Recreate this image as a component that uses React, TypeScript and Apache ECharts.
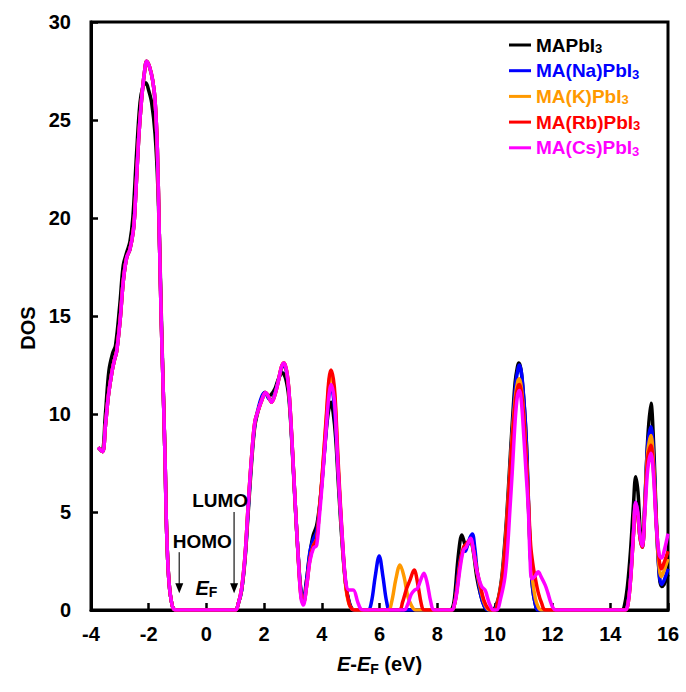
import React, { useEffect, useRef } from 'react';
import * as echarts from 'echarts';

const FONT = '"Liberation Sans", Arial, sans-serif';

type P = [number, number];

// Valence band region (x < -1) shared by the alkali-doped compounds
const valenceAlloy: P[] = [
  [-3.75, 8.3], [-3.6, 8.08], [-3.5, 9.4], [-3.4, 10.9], [-3.28, 12.1], [-3.18, 12.8], [-3.11, 13.2],
  [-2.99, 14.8], [-2.88, 16.8], [-2.76, 18.0], [-2.65, 18.4], [-2.53, 19.4], [-2.47, 20.6], [-2.35, 24.0],
  [-2.25, 26.0], [-2.15, 27.4], [-2.07, 28.0], [-1.97, 27.7], [-1.86, 27.0], [-1.78, 26.0], [-1.7, 23.5],
  [-1.63, 19.0], [-1.56, 14.5], [-1.49, 10.9], [-1.43, 7.5], [-1.38, 4.1], [-1.3, 1.5], [-1.18, 0.2],
  [-1.05, 0], [1.0, 0],
];

const mapbi3: P[] = [
  [-3.75, 8.3], [-3.62, 8.1], [-3.5, 10.0], [-3.38, 12.2], [-3.25, 13.1], [-3.15, 13.5], [-3.0, 15.6],
  [-2.88, 17.6], [-2.75, 18.3], [-2.65, 18.8], [-2.55, 20.0], [-2.42, 23.3], [-2.3, 25.9], [-2.2, 26.7],
  [-2.1, 26.9], [-2.0, 26.5], [-1.9, 25.9], [-1.78, 24.3], [-1.68, 21.5], [-1.6, 17.3], [-1.55, 14.3],
  [-1.49, 10.9], [-1.43, 7.5], [-1.38, 4.1], [-1.3, 1.5], [-1.18, 0.2], [-1.05, 0], [1.0, 0],
  [1.1, 0.3], [1.22, 1.0], [1.34, 2.6], [1.45, 5.0], [1.57, 7.6], [1.68, 9.4], [1.8, 10.2], [1.92, 10.8],
  [2.03, 11.1], [2.15, 10.9], [2.25, 11.0], [2.38, 11.3], [2.5, 11.8], [2.63, 12.1], [2.75, 11.8],
  [2.86, 10.8], [2.96, 8.6], [3.08, 5.3], [3.19, 2.6], [3.28, 0.9], [3.36, 0.5], [3.46, 1.4], [3.58, 2.8],
  [3.7, 3.8], [3.82, 4.3], [3.92, 5.3], [4.02, 6.8], [4.17, 9.4], [4.25, 10.3], [4.32, 10.6], [4.4, 10.0],
  [4.48, 8.8], [4.58, 6.3], [4.71, 3.3], [4.83, 1.3], [4.95, 0.4], [5.05, 0.05], [5.15, 0], [8.45, 0],
  [8.55, 0.2], [8.62, 0.9], [8.7, 2.3], [8.79, 3.5], [8.85, 3.83], [8.93, 3.5], [9.0, 3.2], [9.08, 3.4],
  [9.15, 3.6], [9.25, 3.0], [9.37, 1.7], [9.5, 0.8], [9.62, 0.25], [9.72, 0], [9.92, 0],
  [10.0, 0.1], [10.12, 0.6], [10.24, 1.7], [10.33, 3.2], [10.41, 4.8], [10.5, 7.0], [10.58, 9.0],
  [10.7, 11.6], [10.78, 12.4], [10.83, 12.6], [10.9, 12.3], [10.97, 11.3], [11.04, 9.9], [11.1, 8.2],
  [11.17, 5.0], [11.23, 2.8], [11.3, 1.2], [11.4, 0.3], [11.5, 0], [14.4, 0],
  [14.5, 0.3], [14.6, 1.3], [14.7, 3.0], [14.8, 5.3], [14.88, 6.8], [14.96, 6.0], [15.04, 4.0],
  [15.11, 3.3], [15.2, 5.5], [15.3, 8.8], [15.41, 10.55], [15.5, 8.5], [15.6, 4.5], [15.7, 1.7],
  [15.77, 1.2], [15.86, 1.3], [16.0, 1.8],
];

const naPbi3: P[] = [
  ...valenceAlloy,
  [1.1, 0.3], [1.22, 1.0], [1.34, 2.7], [1.45, 5.2], [1.57, 7.8], [1.68, 9.5], [1.8, 10.3], [1.92, 10.9],
  [2.03, 11.1], [2.15, 10.8], [2.26, 10.7], [2.38, 11.1], [2.49, 11.7], [2.6, 12.3], [2.69, 12.5],
  [2.78, 12.1], [2.86, 11.1], [2.96, 8.7], [3.08, 5.4], [3.19, 2.6], [3.28, 1.0], [3.38, 0.6], [3.48, 1.6],
  [3.59, 3.0], [3.7, 3.6], [3.82, 4.0], [3.92, 5.2], [4.02, 6.8], [4.17, 9.6], [4.25, 11.0], [4.32, 11.4],
  [4.4, 10.9], [4.48, 9.4], [4.58, 6.8], [4.71, 3.5], [4.83, 1.3], [4.95, 0.35], [5.05, 0.05], [5.15, 0],
  [5.6, 0], [5.72, 0.4], [5.85, 1.7], [5.99, 2.76], [6.12, 1.7], [6.25, 0.4], [6.37, 0], [8.5, 0],
  [8.6, 0.3], [8.7, 1.5], [8.8, 2.6], [8.9, 3.0], [8.97, 3.0], [9.05, 3.3], [9.14, 3.7], [9.22, 3.88],
  [9.3, 3.2], [9.4, 1.8], [9.52, 0.7], [9.63, 0.2], [9.75, 0], [9.95, 0],
  [10.03, 0.1], [10.14, 0.6], [10.26, 1.7], [10.35, 3.2], [10.43, 4.8], [10.52, 7.0], [10.6, 9.0],
  [10.72, 11.5], [10.8, 12.3], [10.85, 12.5], [10.92, 12.1], [10.99, 11.0], [11.06, 9.5], [11.12, 7.5],
  [11.18, 4.8], [11.24, 2.6], [11.31, 1.1], [11.4, 0.3], [11.5, 0], [14.5, 0],
  [14.6, 0.3], [14.7, 1.6], [14.8, 3.9], [14.88, 5.5], [14.95, 5.0], [15.03, 3.7], [15.11, 3.2],
  [15.2, 5.6], [15.3, 8.5], [15.41, 9.35], [15.5, 7.8], [15.6, 4.2], [15.7, 1.8], [15.77, 1.3],
  [15.86, 1.5], [16.0, 2.1],
];

const kPbi3: P[] = [
  ...valenceAlloy,
  [1.1, 0.3], [1.22, 1.1], [1.34, 2.8], [1.45, 5.4], [1.57, 7.9], [1.68, 9.6], [1.8, 10.2], [1.92, 10.7],
  [2.05, 11.1], [2.15, 10.9], [2.26, 10.6], [2.38, 11.0], [2.49, 11.65], [2.6, 12.4], [2.69, 12.6],
  [2.78, 12.2], [2.86, 11.2], [2.96, 8.8], [3.08, 5.4], [3.19, 2.5], [3.28, 0.7], [3.36, 0.35], [3.48, 1.3],
  [3.59, 2.6], [3.71, 3.3], [3.82, 3.6], [3.9, 4.8], [4.0, 6.6], [4.17, 10.0], [4.25, 11.6], [4.32, 12.0],
  [4.4, 11.5], [4.46, 10.6], [4.57, 7.2], [4.71, 3.5], [4.83, 1.2], [4.94, 0.3], [5.05, 0.05], [5.15, 0],
  [6.3, 0], [6.42, 0.4], [6.57, 1.6], [6.71, 2.3], [6.85, 1.7], [6.98, 0.7], [7.1, 0.25], [7.25, 0], [8.5, 0],
  [8.6, 0.3], [8.68, 1.0], [8.8, 2.4], [8.91, 3.1], [9.0, 3.3], [9.08, 3.45], [9.16, 3.55], [9.25, 3.1],
  [9.37, 2.0], [9.5, 1.1], [9.62, 0.4], [9.75, 0.05], [9.85, 0], [10.0, 0],
  [10.1, 0.4], [10.24, 1.5], [10.35, 3.2], [10.43, 4.9], [10.52, 7.0], [10.6, 8.9], [10.72, 11.0],
  [10.8, 11.7], [10.85, 11.8], [10.92, 11.3], [11.0, 10.0], [11.08, 8.0], [11.16, 5.5], [11.22, 3.2],
  [11.3, 1.6], [11.4, 0.6], [11.5, 0.15], [11.6, 0], [14.5, 0],
  [14.6, 0.2], [14.7, 1.5], [14.8, 3.8], [14.88, 5.4], [14.95, 4.9], [15.03, 3.7], [15.11, 3.2],
  [15.2, 5.4], [15.3, 8.1], [15.41, 8.9], [15.5, 7.4], [15.6, 4.2], [15.7, 2.1], [15.77, 1.7],
  [15.86, 2.0], [16.0, 2.6],
];

const rbPbi3: P[] = [
  ...valenceAlloy,
  [1.1, 0.3], [1.22, 1.1], [1.34, 2.8], [1.45, 5.4], [1.57, 7.9], [1.68, 9.6], [1.8, 10.2], [1.92, 10.7],
  [2.05, 11.1], [2.15, 10.9], [2.26, 10.6], [2.38, 11.0], [2.49, 11.65], [2.6, 12.4], [2.69, 12.6],
  [2.78, 12.2], [2.86, 11.2], [2.96, 8.8], [3.08, 5.4], [3.19, 2.5], [3.28, 0.7], [3.36, 0.35], [3.48, 1.3],
  [3.59, 2.6], [3.71, 3.3], [3.82, 3.6], [3.9, 4.8], [4.0, 6.6], [4.17, 10.2], [4.25, 11.8], [4.32, 12.25],
  [4.4, 11.8], [4.46, 10.9], [4.57, 7.5], [4.71, 3.7], [4.83, 1.3], [4.94, 0.35], [5.04, 0.05], [5.12, 0],
  [6.68, 0], [6.8, 0.4], [6.94, 1.1], [7.05, 1.5], [7.2, 2.04], [7.33, 1.3], [7.45, 0.3], [7.55, 0], [8.5, 0],
  [8.6, 0.3], [8.68, 1.0], [8.8, 2.5], [8.91, 3.2], [9.0, 3.35], [9.08, 3.5], [9.16, 3.55], [9.25, 3.1],
  [9.37, 2.1], [9.5, 1.2], [9.62, 0.5], [9.75, 0.1], [9.88, 0], [10.0, 0],
  [10.1, 0.4], [10.24, 1.5], [10.35, 3.1], [10.43, 4.8], [10.52, 6.9], [10.6, 8.7], [10.72, 10.8],
  [10.8, 11.4], [10.85, 11.5], [10.92, 11.1], [11.0, 9.8], [11.08, 7.9], [11.16, 5.6], [11.24, 3.3],
  [11.33, 2.2], [11.39, 1.7], [11.5, 0.9], [11.62, 0.35], [11.75, 0], [14.5, 0],
  [14.6, 0.2], [14.7, 1.5], [14.8, 3.8], [14.88, 5.4], [14.95, 4.9], [15.03, 3.7], [15.11, 3.2],
  [15.2, 5.2], [15.3, 7.8], [15.41, 8.4], [15.5, 7.1], [15.6, 4.3], [15.7, 2.5], [15.77, 2.1],
  [15.86, 2.4], [16.0, 3.0],
];

const csPbi3: P[] = [
  ...valenceAlloy,
  [1.1, 0.3], [1.22, 1.1], [1.34, 2.8], [1.45, 5.4], [1.57, 7.9], [1.68, 9.6], [1.8, 10.2], [1.92, 10.7],
  [2.05, 11.1], [2.15, 10.9], [2.26, 10.6], [2.38, 11.0], [2.49, 11.65], [2.6, 12.4], [2.69, 12.6],
  [2.78, 12.2], [2.86, 11.2], [2.96, 8.8], [3.08, 5.4], [3.19, 2.5], [3.28, 0.6], [3.36, 0.25], [3.48, 1.28],
  [3.59, 2.5], [3.71, 3.15], [3.82, 3.3], [3.9, 4.5], [4.0, 6.2], [4.17, 9.6], [4.25, 11.0], [4.32, 11.5],
  [4.4, 11.1], [4.46, 10.3], [4.57, 7.06], [4.71, 3.7], [4.83, 1.45], [4.94, 1.02], [5.09, 1.02],
  [5.24, 0.43], [5.35, 0.05], [5.45, 0], [6.85, 0],
  [6.98, 0.3], [7.1, 0.8], [7.22, 1.02], [7.32, 1.1], [7.42, 1.5], [7.54, 1.87], [7.65, 1.4], [7.78, 0.4],
  [7.9, 0], [8.5, 0],
  [8.6, 0.3], [8.68, 0.87], [8.8, 2.2], [8.91, 3.06], [9.0, 3.2], [9.08, 3.45], [9.16, 3.66], [9.25, 3.1],
  [9.37, 2.04], [9.54, 1.2], [9.66, 1.02], [9.75, 0.6], [9.83, 0.25], [9.94, 0], [10.06, 0],
  [10.2, 0.6], [10.35, 1.7], [10.45, 3.4], [10.52, 5.1], [10.6, 7.0], [10.7, 9.6], [10.78, 10.9],
  [10.85, 11.2], [10.92, 10.6], [11.0, 8.9], [11.08, 7.0], [11.16, 5.1], [11.22, 2.55], [11.28, 1.6],
  [11.38, 1.7], [11.5, 1.95], [11.6, 1.7], [11.74, 1.28], [11.83, 0.9], [11.91, 0.5], [12.0, 0.15],
  [12.1, 0], [14.5, 0],
  [14.6, 0.2], [14.7, 1.5], [14.8, 3.8], [14.88, 5.5], [14.95, 5.0], [15.03, 3.8], [15.11, 3.26],
  [15.2, 5.0], [15.3, 7.2], [15.41, 8.0], [15.5, 6.8], [15.6, 4.2], [15.7, 2.8], [15.78, 2.65],
  [15.88, 3.1], [16.0, 3.9],
];

const seriesNames = ['MAPbI3', 'MA(Na)PbI3', 'MA(K)PbI3', 'MA(Rb)PbI3', 'MA(Cs)PbI3'];
const seriesColors = ['#000000', '#0000ff', '#ff9900', '#ff0000', '#ff00ff'];
const seriesData = [mapbi3, naPbi3, kPbi3, rbPbi3, csPbi3];

const xTicks = { min: -4, max: 16, interval: 2 };
const yTicks = { min: 0, max: 30, interval: 5 };

// annotation anchors in data coordinates
const homo = { label: 'HOMO', x: -0.94, yTop: 2.95, yTip: 0.85 };
const lumo = { label: 'LUMO', x: 0.96, yTop: 5.0, yTip: 0.85 };
const fermi = { x: 0, y: 1.12 };

export default function App() {
  const ref = useRef<HTMLDivElement>(null);
  useEffect(() => {
    const chart = echarts.init(ref.current!, null, { renderer: 'svg' });
    const labelStyle = { color: '#000', fontSize: 20, fontWeight: 'bold' as const, fontFamily: FONT };
    chart.setOption({
      animation: false,
      backgroundColor: '#fff',
      grid: {
        left: 91, right: 18, top: 22, bottom: 82,
        show: true, borderColor: '#000', borderWidth: 3, backgroundColor: 'transparent',
      },
      legend: {
        orient: 'vertical',
        left: 504,
        top: 30,
        itemWidth: 22,
        itemHeight: 3,
        itemGap: 5.7,
        icon: 'rect',
        formatter: (name: string) => name.replace(/3$/, '') + '{sub|3}',
        data: seriesNames.map((n, i) => ({
          name: n,
          textStyle: {
            color: seriesColors[i],
            fontSize: 19,
            fontWeight: 'bold',
            fontFamily: FONT,
            lineHeight: 20,
            rich: {
              sub: {
                color: seriesColors[i], fontSize: 13, fontWeight: 'bold', fontFamily: FONT,
                verticalAlign: 'bottom', lineHeight: 10,
              },
            },
          },
        })),
      },
      xAxis: {
        type: 'value',
        ...xTicks,
        axisLine: { show: true, onZero: false, lineStyle: { color: '#000', width: 3 } },
        axisTick: { show: true, inside: true, length: 7, lineStyle: { color: '#000', width: 2.5 } },
        axisLabel: { ...labelStyle, margin: 14 },
        splitLine: { show: false },
        name: '{i|E}-{i|E}{sub|F} (eV)',
        nameLocation: 'middle',
        nameGap: 42,
        nameTextStyle: {
          ...labelStyle,
          lineHeight: 24,
          rich: {
            i: { ...labelStyle, fontStyle: 'italic', lineHeight: 24 },
            sub: { ...labelStyle, fontSize: 14, verticalAlign: 'bottom', lineHeight: 12 },
          },
        },
      },
      yAxis: {
        type: 'value',
        ...yTicks,
        axisLine: { show: true, onZero: false, lineStyle: { color: '#000', width: 3 } },
        axisTick: { show: true, inside: true, length: 7, lineStyle: { color: '#000', width: 2.5 } },
        axisLabel: { ...labelStyle, margin: 20 },
        splitLine: { show: false },
      },
      series: seriesNames.map((n, i) => ({
        name: n,
        type: 'line',
        data: seriesData[i],
        showSymbol: false,
        smooth: 0.35,
        color: seriesColors[i],
        lineStyle: { color: seriesColors[i], width: 3.5 },
        z: 2 + i,
      })),
    });

    const px = (x: number, y: number) => chart.convertToPixel({ gridIndex: 0 }, [x, y]) as number[];
    const arrow = (a: typeof homo) => {
      const top = px(a.x, a.yTop);
      const tip = px(a.x, a.yTip);
      return [
        { type: 'line', shape: { x1: top[0], y1: top[1], x2: tip[0], y2: tip[1] - 8 }, style: { stroke: '#444', lineWidth: 1.5 }, z: 20 },
        {
          type: 'polygon',
          shape: { points: [[tip[0] - 4, tip[1] - 10], [tip[0] + 4, tip[1] - 10], [tip[0], tip[1]]] },
          style: { fill: '#000' }, z: 20,
        },
      ];
    };
    const hTop = px(homo.x, homo.yTop);
    const lTop = px(lumo.x, lumo.yTop);
    const ef = px(fermi.x, fermi.y);
    chart.setOption({
      graphic: [
        ...arrow(homo),
        ...arrow(lumo),
        {
          type: 'text', x: hTop[0] + 23, y: hTop[1] - 11, z: 20,
          style: { text: homo.label, fill: '#000', font: `bold 19px ${FONT}`, align: 'center', verticalAlign: 'middle' },
        },
        {
          type: 'text', x: lTop[0] - 14, y: lTop[1] - 12, z: 20,
          style: { text: lumo.label, fill: '#000', font: `bold 19px ${FONT}`, align: 'center', verticalAlign: 'middle' },
        },
        {
          type: 'text', x: ef[0], y: ef[1], z: 20,
          style: {
            text: '{i|E}{s|F}', align: 'center', verticalAlign: 'middle',
            rich: {
              i: { fill: '#000', fontSize: 20, fontWeight: 'bold', fontStyle: 'italic', fontFamily: FONT, lineHeight: 22 },
              s: { fill: '#000', fontSize: 14, fontWeight: 'bold', fontFamily: FONT, verticalAlign: 'bottom', lineHeight: 12 },
            },
          },
        },
        {
          type: 'text', x: 28, y: 328, rotation: Math.PI / 2, z: 20,
          style: { text: 'DOS', fill: '#000', font: `bold 20px ${FONT}`, align: 'center', verticalAlign: 'middle' },
        },
      ],
    });
    return () => chart.dispose();
  }, []);
  return <div ref={ref} style={{ position: 'absolute', left: 0, top: 0, width: 686, height: 692 }} />;
}
